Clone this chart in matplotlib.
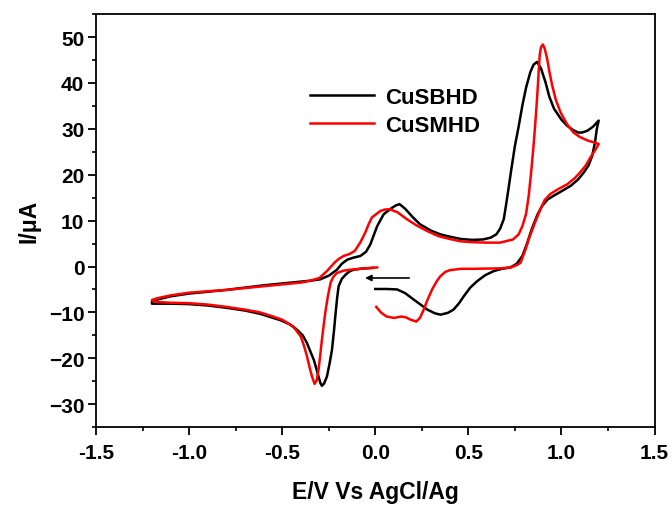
import matplotlib

matplotlib.use("Agg")
import matplotlib.pyplot as plt
from matplotlib.ticker import MultipleLocator, FormatStrFormatter

plt.rcParams["font.family"] = ["Liberation Sans", "DejaVu Sans"]
plt.rcParams["font.weight"] = "bold"

# CuSBHD trace (E / V, I / uA), in scan order
cusbhd_e = [
    0.0, 0.06, 0.117, 0.16, 0.206, 0.25, 0.28, 0.32, 0.35, 0.39, 0.42, 0.45, 0.475, 0.51,
    0.547, 0.59, 0.636, 0.68, 0.726, 0.76, 0.79, 0.815, 0.84, 0.87, 0.896, 0.925, 0.957,
    1.0, 1.05, 1.09, 1.12, 1.145, 1.165, 1.18, 1.19, 1.2,
    1.17, 1.14, 1.11, 1.09, 1.06, 1.03, 1.0, 0.96, 0.935, 0.914, 0.89, 0.869, 0.85, 0.833,
    0.81, 0.79, 0.77, 0.75, 0.73, 0.715, 0.70, 0.69, 0.67, 0.65, 0.62, 0.58, 0.52, 0.46,
    0.40, 0.35, 0.30, 0.24, 0.20, 0.16, 0.13, 0.11, 0.09, 0.045, 0.01, -0.027, -0.05,
    -0.08, -0.12, -0.15, -0.18, -0.206, -0.25, -0.296, -0.35, -0.4, -0.5, -0.6, -0.7,
    -0.8, -0.9, -1.0, -1.1, -1.17, -1.2, -1.2,
    -1.1, -1.0, -0.9, -0.8, -0.7, -0.62, -0.55, -0.51, -0.46, -0.42, -0.39, -0.367, -0.35,
    -0.33, -0.315, -0.305, -0.295, -0.287, -0.275, -0.26, -0.245, -0.233, -0.222, -0.215,
    -0.205, -0.197, -0.18, -0.16, -0.14, -0.117, -0.07, -0.01,
]
cusbhd_i = [
    -4.9, -4.9, -5.0, -5.8, -7.2, -8.5, -9.4, -10.2, -10.5, -10.1, -9.4, -8.0, -6.5, -4.6,
    -3.2, -1.9, -1.0, -0.5, -0.2, 0.6, 2.3, 5.0, 8.1, 11.2, 13.2, 14.6, 15.4,
    16.4, 17.6, 19.0, 20.5, 22.0, 24.1, 27.0, 30.0, 31.8,
    30.5, 29.6, 29.2, 29.2, 29.8, 30.7, 32.0, 34.4, 37.0, 40.2, 43.2, 44.6, 44.0, 42.4,
    39.0, 35.1, 30.5, 26.3, 21.0, 16.8, 12.8, 10.3, 8.2, 7.0, 6.3, 5.9, 5.8, 6.0,
    6.5, 7.0, 7.8, 9.2, 10.8, 12.6, 13.6, 13.3, 12.8, 11.4, 8.8, 4.8, 3.2,
    2.3, 1.9, 1.5, 0.6, -0.7, -2.0, -2.8, -3.1, -3.3, -3.7, -4.1, -4.6,
    -5.1, -5.5, -5.9, -6.5, -7.2, -7.7, -8.1,
    -8.1, -8.2, -8.5, -9.0, -9.6, -10.3, -11.2, -11.7, -12.6, -13.8, -15.0, -16.7, -18.4,
    -20.4, -22.5, -24.0, -25.4, -26.0, -25.5, -24.0, -21.0, -18.2, -14.0, -10.9,
    -6.8, -4.3, -2.7, -1.8, -1.1, -0.7, -0.45, -0.3,
]

# CuSMHD trace
cusmhd_e = [
    0.005, 0.03, 0.06, 0.1, 0.14, 0.165, 0.19, 0.22, 0.24, 0.26, 0.28, 0.305, 0.33, 0.35,
    0.375, 0.40, 0.46, 0.53, 0.6, 0.67, 0.73, 0.76, 0.78, 0.805, 0.83, 0.86, 0.887, 0.91,
    0.94, 0.98, 1.03, 1.07, 1.1, 1.13, 1.156, 1.18, 1.2,
    1.18, 1.145, 1.1, 1.065, 1.03, 0.995, 0.97, 0.95, 0.935, 0.923, 0.91, 0.9, 0.89,
    0.883, 0.877, 0.87, 0.86, 0.85, 0.837, 0.824, 0.81, 0.79, 0.77, 0.74, 0.67, 0.6,
    0.52, 0.457, 0.4, 0.34, 0.28, 0.22, 0.17, 0.12, 0.077, 0.05, 0.027, -0.018, -0.035,
    -0.054, -0.08, -0.11, -0.14, -0.17, -0.195, -0.22, -0.26, -0.3, -0.35, -0.4, -0.5,
    -0.6, -0.7, -0.8, -0.9, -1.0, -1.1, -1.17, -1.2, -1.19,
    -1.1, -1.0, -0.9, -0.8, -0.7, -0.62, -0.55, -0.5, -0.44, -0.40, -0.383, -0.367, -0.35,
    -0.34, -0.326, -0.315, -0.305, -0.295, -0.287, -0.278, -0.269, -0.255, -0.24, -0.225,
    -0.206, -0.17, -0.134, -0.07, 0.01,
]
cusmhd_i = [
    -8.8, -10.0, -10.9, -11.2, -10.9, -11.1, -11.6, -12.0, -11.2, -9.4, -7.3, -5.0, -3.2, -2.1,
    -1.2, -0.8, -0.5, -0.5, -0.45, -0.4, -0.2, 0.3, 0.8, 3.5, 6.6, 9.8, 12.5, 14.5,
    15.8, 16.8, 17.9, 19.2, 20.5, 22.0, 23.8, 25.3, 26.7,
    27.0, 27.4, 28.2, 29.2, 31.0, 33.6, 36.3, 39.5, 42.5, 45.3, 47.5, 48.4, 47.8,
    46.0, 42.0, 37.3, 31.5, 26.3, 20.5, 15.4, 11.5, 8.8, 7.0, 5.9, 5.2, 5.2,
    5.3, 5.5, 6.0, 6.6, 7.7, 9.0, 10.3, 11.8, 12.5, 12.4, 12.1, 10.7, 9.3,
    7.4, 5.3, 3.4, 2.7, 2.3, 1.7, 0.8, -1.0, -2.5, -3.1, -3.5, -3.9,
    -4.3, -4.7, -5.1, -5.4, -5.7, -6.3, -6.9, -7.3, -7.7,
    -7.9, -8.0, -8.3, -8.8, -9.4, -10.0, -10.9, -11.6, -13.1, -15.3, -17.3, -19.6, -22.5,
    -24.0, -25.6, -24.8, -22.5, -19.0, -16.0, -13.0, -10.1, -6.5, -3.5, -2.2,
    -1.4, -0.9, -0.7, -0.45, -0.2,
]

# scan direction arrow (tail -> head)
arrow_tail = (0.197, -2.5)
arrow_head = (-0.07, -2.5)

fig, ax = plt.subplots(figsize=(6.72, 5.06), dpi=100)
fig.subplots_adjust(left=0.143, right=0.974, bottom=0.154, top=0.970)

ax.plot(cusbhd_e, cusbhd_i, color="black", lw=1.8, label="CuSBHD")
ax.plot(cusmhd_e, cusmhd_i, color="#ff0000", lw=1.8, label="CuSMHD")

ax.annotate("", xy=arrow_head, xytext=arrow_tail,
            arrowprops=dict(arrowstyle="-|>", color="black", lw=1.2, mutation_scale=9))

ax.set_xlim(-1.5, 1.5)
ax.set_ylim(-35, 55)
ax.xaxis.set_major_locator(MultipleLocator(0.5))
ax.xaxis.set_minor_locator(MultipleLocator(0.25))
ax.yaxis.set_minor_locator(MultipleLocator(5))
ax.xaxis.set_major_formatter(FormatStrFormatter("%.1f"))
ax.set_yticks(range(-30, 51, 10))

ax.tick_params(which="major", direction="out", length=5.5, width=1.3, labelsize=15)
ax.tick_params(axis="x", which="major", pad=6)
ax.tick_params(axis="y", which="major", pad=3)
ax.tick_params(which="minor", direction="out", length=3, width=1.2)
for spine in ax.spines.values():
    spine.set_linewidth(1.3)

ax.set_xlabel("E/V Vs AgCl/Ag", fontsize=16.5, fontweight="bold", labelpad=13)
ax.set_ylabel("I/\u03bcA", fontsize=16.5, fontweight="bold", labelpad=6)

leg = ax.legend(loc="center", bbox_to_anchor=(0.535, 0.765), frameon=False,
                handlelength=2.9, handletextpad=0.5, labelspacing=0.3,
                prop={"size": 16, "weight": "bold"})

fig.savefig("out.png", dpi=100)
